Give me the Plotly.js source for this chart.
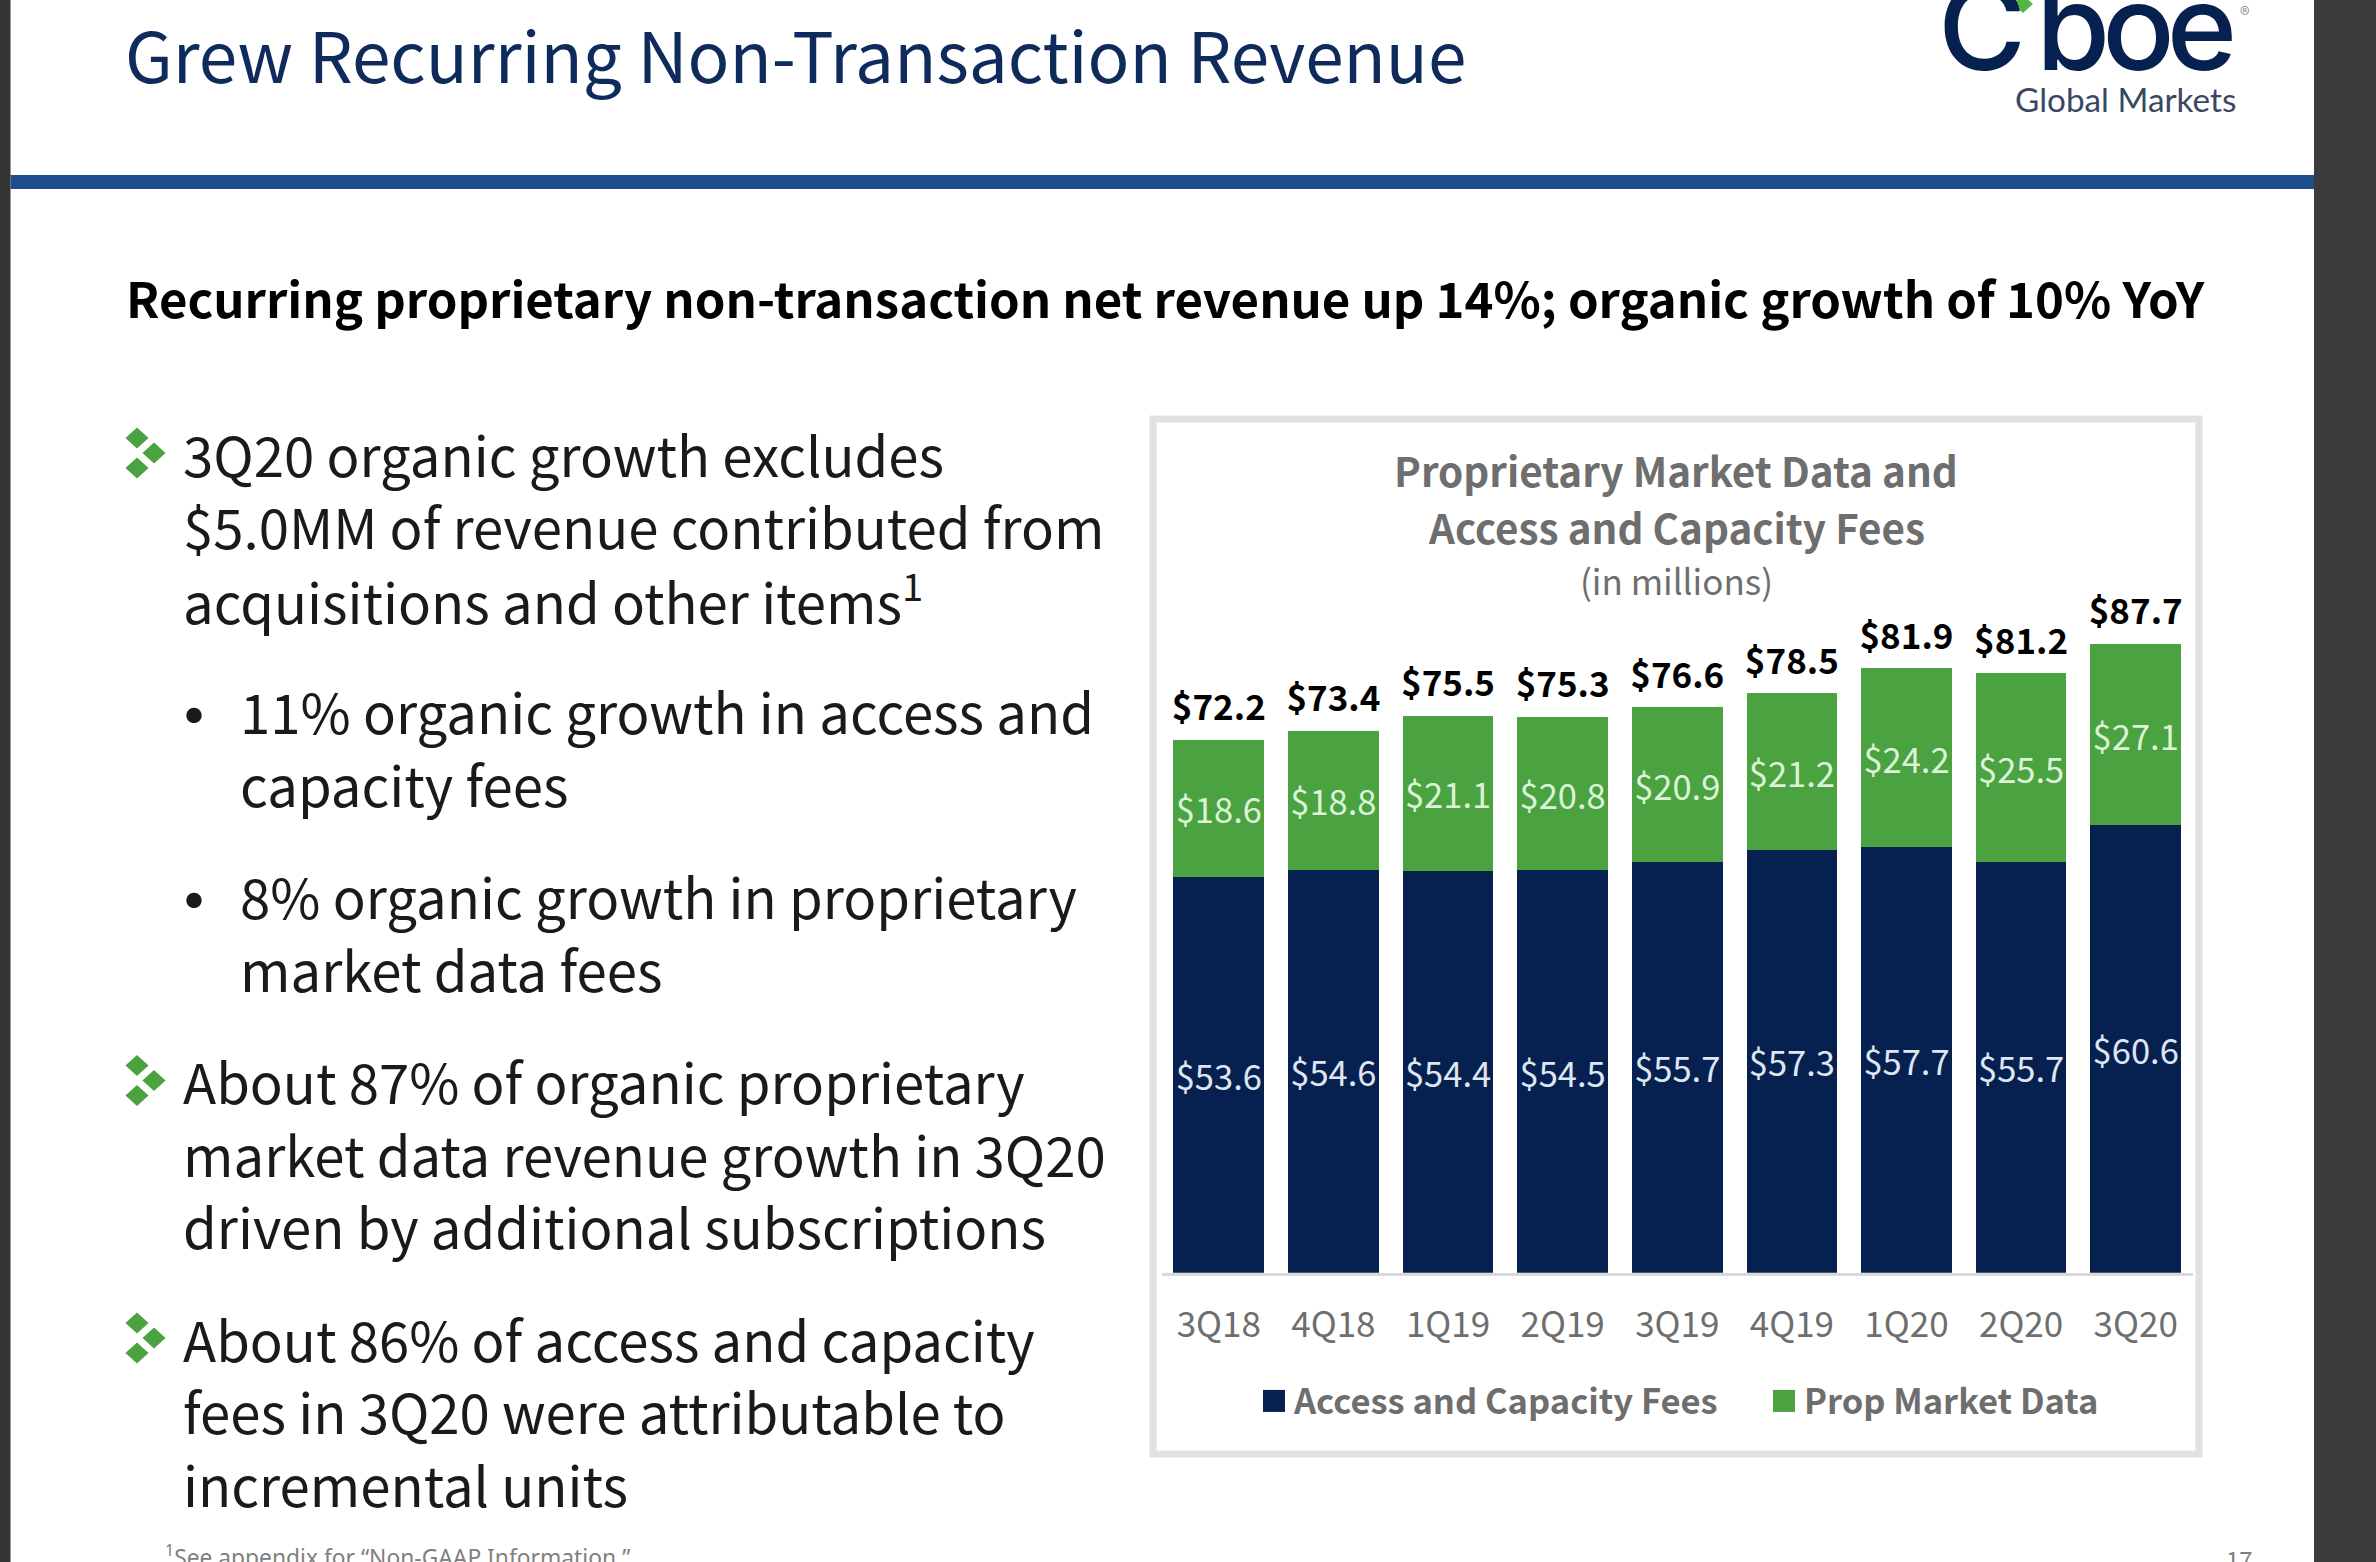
<!DOCTYPE html>
<html>
<head>
<meta charset="utf-8">
<script src="https://cdn.plot.ly/plotly-3.0.0.min.js"></script>
<style>
html,body{margin:0;padding:0;background:#fff;overflow:hidden}
</style>
</head>
<body>
<div id="chart" style="width:2376px;height:1562px"></div>
<script>
// ---- data ----
const quarters = ['3Q18','4Q18','1Q19','2Q19','3Q19','4Q19','1Q20','2Q20','3Q20'];
const accessFees = [53.6,54.6,54.4,54.5,55.7,57.3,57.7,55.7,60.6];
// Printed labels of the green segments.
const propLabels = [18.6,18.8,21.1,20.8,20.9,21.2,24.2,25.5,27.1];
// Heights as drawn in the source. They equal the labels except 3Q20, which the
// source prints as 27.1 but draws about 24.6 tall on the same scale.
const propDrawn = [18.6,18.8,21.1,20.8,20.9,21.2,24.2,25.5,24.6];
const totalLabels = [72.2,73.4,75.5,75.3,76.6,78.5,81.9,81.2,87.7];
const seriesNames = ['Access and Capacity Fees','Prop Market Data'];

const slideTitle = 'Grew Recurring Non-Transaction Revenue';
const slideSubtitle = 'Recurring proprietary non-transaction net revenue up 14%; organic growth of 10% YoY';
const chartTitleLines = ['Proprietary Market Data and','Access and Capacity Fees'];
const chartSubtitle = '(in millions)';
const mainLines = [
  ['3Q20 organic growth excludes',301],
  ['$5.0MM of revenue contributed from',349],
  ['acquisitions and other items<sup>1</sup>',397],
  ['About 87% of organic proprietary',715],
  ['market data revenue growth in 3Q20',763],
  ['driven by additional subscriptions',811],
  ['About 86% of access and capacity',885],
  ['fees in 3Q20 were attributable to',933],
  ['incremental units',981]
];
const subLines = [
  ['11% organic growth in access and',471],
  ['capacity fees',519],
  ['8% organic growth in proprietary',593],
  ['market data fees',641]
];

// ---- page geometry helpers ----
const W = 2376, H = 1562, S = 2376/1568;
const FONT = '"Noto Sans CJK SC","Noto Sans",sans-serif';
const px = x => x/W;
const py = y => 1-y/H;
const NAVY = '#06214f', GREEN = '#4aa340', GREY = '#6e6e6e';
const PX_PER_UNIT = 7.38, BASE = 1272.7, TOP = 430;

function note(text,x,y,size,color,extra){
  return Object.assign({text:text,x:px(x),y:py(y),xref:'paper',yref:'paper',showarrow:false,
    xanchor:'left',yanchor:'middle',font:{family:FONT,size:size,color:color}},extra||{});
}
function rect(x0,y0,x1,y1,fill,line,lw){
  return {type:'rect',xref:'paper',yref:'paper',x0:px(x0),x1:px(x1),y0:py(y0),y1:py(y1),
    fillcolor:fill,line:{color:line||fill,width:lw||0},layer:'below'};
}
function diamond(cx,cy,r,color){
  const p=[[cx,cy-r],[cx+r*1.1,cy],[cx,cy+r],[cx-r*1.1,cy]];
  return {type:'path',xref:'paper',yref:'paper',
    path:'M'+p.map(q=>px(q[0])+','+py(q[1])).join('L')+'Z',fillcolor:color,line:{width:0},layer:'above'};
}
function bulletMark(cy){
  return [diamond(137,cy-15,10.5,GREEN),diamond(154,cy,10.5,GREEN),diamond(137,cy+15,10.5,GREEN)];
}

const annotations = [];
annotations.push(note(slideTitle,123,53,69.3,'#0f2b5b'));
annotations.push(note(slideSubtitle,124,296.5,49.1,'#000',{font:{family:FONT,size:49.1,color:'#000',weight:700}}));
mainLines.forEach(l=>annotations.push(note(l[0],181,l[1]*S-3,54.5,'#1a1a1a')));
subLines.forEach(l=>annotations.push(note(l[0],238,l[1]*S-3,54.5,'#1a1a1a')));
[471,593].forEach(c=>annotations.push(note('•',194,c*S-3,72,'#1a1a1a',{xanchor:'center'})));
chartTitleLines.forEach((t,i)=>annotations.push(note(t,1676,470+i*56,40.4,GREY,
  {xanchor:'center',font:{family:FONT,size:40.4,color:GREY,weight:700}})));
annotations.push(note(chartSubtitle,1676,579,35,GREY,{xanchor:'center'}));
annotations.push(note('<sup>1</sup>See appendix for “Non-GAAP Information.”',163,1556,22.8,'#808080',
  {font:{family:'"Noto Sans"',size:22.8,color:'#808080'}}));
annotations.push(note('17',2224,1558,24,'#808080'));
// logo
annotations.push(note('C',1936,26,120,NAVY,{font:{family:'Inter',size:120,color:NAVY,weight:500}}));
const logoIndex = annotations.length;
annotations.push(note('boe',2022,26,120,NAVY,{font:{family:'Inter',size:120,color:NAVY,weight:500}}));
annotations.push(note('Global Markets',2013,99,33.3,'#3a4763',{font:{family:'Lato',size:33.3,color:'#3a4763'}}));
annotations.push(note('®',2238,13,20,'#8a8f9c'));

const logoStyle = document.createElement('style');
logoStyle.textContent = '.annotation[data-index="'+logoIndex+'"] text{letter-spacing:-8px}';
document.head.appendChild(logoStyle);

const shapes = [
  rect(0,0,10.5,H,'#333333'),
  rect(2314,0,W,H,'#3b3b3b'),
  rect(10.5,175,2314,189,'#1f4d8c'),
  rect(1153,419,2199,1454,'#ffffff','#e1e1e1',7),
  diamond(2023,4,9,'#4fb848')
];
[301,715,885].forEach(c=>bulletMark((c-2)*S).forEach(d=>shapes.push(d)));

const money = v => '$'+v.toFixed(1);
const traces = [
  {type:'bar',name:seriesNames[0],x:quarters,y:accessFees,marker:{color:NAVY},
   text:accessFees.map(money),textposition:'inside',insidetextanchor:'middle',constraintext:'none',
   textangle:0,insidetextfont:{family:FONT,size:34.5,color:'#dfe6f2'},hoverinfo:'x+y'},
  {type:'bar',name:seriesNames[1],x:quarters,y:propDrawn,marker:{color:GREEN},
   text:propLabels.map(money),textposition:'inside',insidetextanchor:'middle',constraintext:'none',
   textangle:0,insidetextfont:{family:FONT,size:34.5,color:'#dcf3d8'},hoverinfo:'x+y'},
  {type:'scatter',mode:'markers+text',x:quarters,y:accessFees.map((v,i)=>v+propDrawn[i]),
   marker:{size:16,opacity:0},
   text:totalLabels.map(money),textposition:'top center',showlegend:false,hoverinfo:'skip',
   textfont:{family:FONT,size:35,color:'#000',weight:700}}
];

const layout = {
  width:W,height:H,margin:{l:0,r:0,t:0,b:0},paper_bgcolor:'#fff',plot_bgcolor:'rgba(0,0,0,0)',
  barmode:'stack',bargap:0.209,
  xaxis:{domain:[px(1161.5),px(2193)],type:'category',range:[-0.5,8.5],anchor:'y',
    showgrid:false,zeroline:false,showline:true,linecolor:'#d9d9d9',linewidth:3,
    ticks:'outside',ticklen:19,tickcolor:'rgba(0,0,0,0)',
    tickfont:{family:FONT,size:35,color:GREY}},
  yaxis:{domain:[py(BASE),py(TOP)],range:[0,(BASE-TOP)/PX_PER_UNIT],visible:false},
  legend:{orientation:'h',traceorder:'normal',x:px(1254),y:py(1401),xanchor:'left',yanchor:'middle',
    entrywidth:465,entrywidthmode:'pixels',bgcolor:'rgba(0,0,0,0)',
    font:{family:FONT,size:34.5,color:GREY,weight:700}},
  annotations:annotations,shapes:shapes,showlegend:true
};
Plotly.newPlot('chart',traces,layout,{displayModeBar:false,responsive:false}).then(gd=>{
  // enlarge the legend swatches to the reference's size
  gd.querySelectorAll('.legendpoints path').forEach(p=>p.setAttribute('d','M11,11H-11V-11H11Z'));
});
</script>
</body>
</html>
